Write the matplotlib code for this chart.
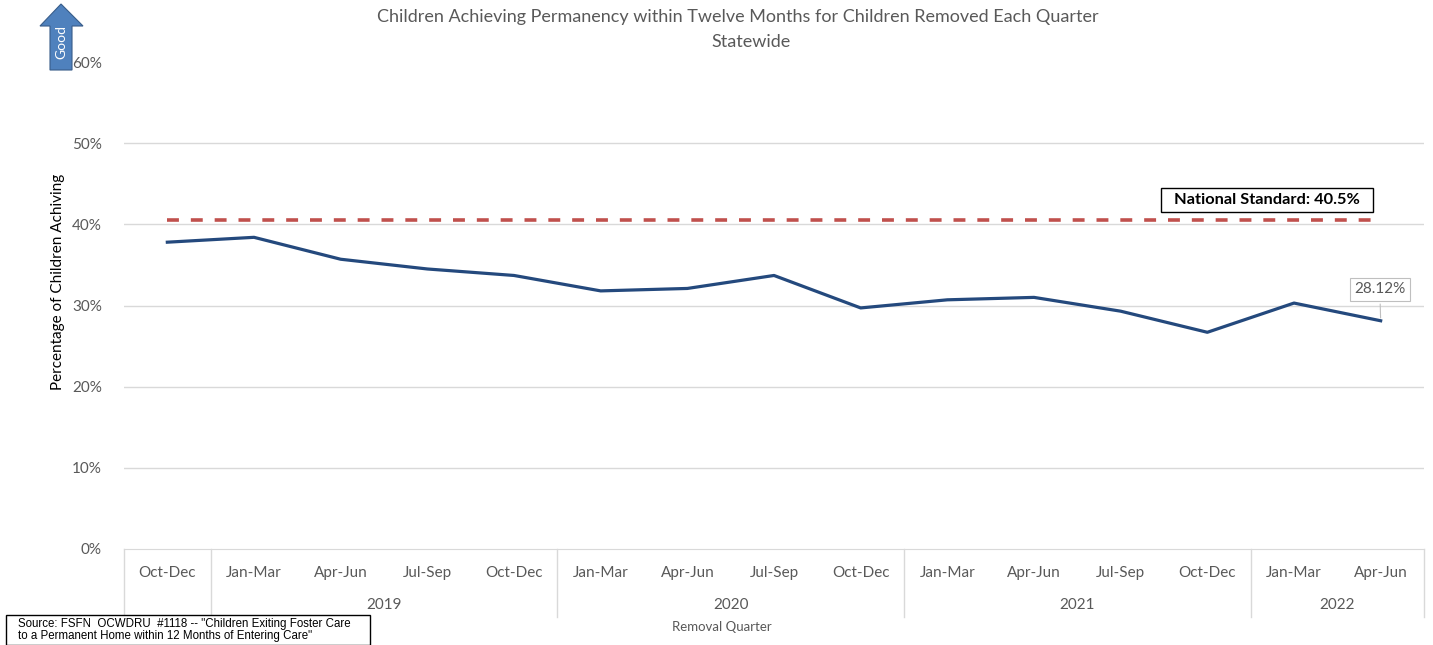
import matplotlib
matplotlib.use("Agg")
import matplotlib.pyplot as plt
from matplotlib.patches import Polygon, Rectangle
from matplotlib.lines import Line2D
import matplotlib.transforms as mtransforms

quarters = ["Oct-Dec", "Jan-Mar", "Apr-Jun", "Jul-Sep", "Oct-Dec",
            "Jan-Mar", "Apr-Jun", "Jul-Sep", "Oct-Dec",
            "Jan-Mar", "Apr-Jun", "Jul-Sep", "Oct-Dec",
            "Jan-Mar", "Apr-Jun"]
pct_achieving = [0.378, 0.384, 0.357, 0.345, 0.337,
                 0.318, 0.321, 0.337, 0.297,
                 0.307, 0.310, 0.293, 0.267,
                 0.303, 0.2812]
year_labels = ["", "2019", "2020", "2021", "2022"]
year_sizes = [1, 4, 4, 4, 2]
national_standard = 0.405

W, H = 1433, 645
plt.rcParams["font.family"] = ["Lato", "DejaVu Sans"]
gray = "#595959"

fig = plt.figure(figsize=(W / 100, H / 100), dpi=100)


def fx(px):
    return px / W


def fy(py):
    return 1 - py / H


left, right, top, bottom = 124, 1424, 62, 549
ax = fig.add_axes([fx(left), fy(bottom), (right - left) / W, (bottom - top) / H])
n = len(quarters)
x = list(range(n))

ax.set_xlim(-0.5, n - 0.5)
ax.set_ylim(0, 0.6)
ax.set_yticks([0, 0.1, 0.2, 0.3, 0.4, 0.5, 0.6])
ax.set_yticklabels(["0%", "10%", "20%", "30%", "40%", "50%", "60%"], color=gray, fontsize=11)
ax.tick_params(axis="y", length=0, pad=16)
ax.set_xticks([])
for s in ["top", "right", "left"]:
    ax.spines[s].set_visible(False)
ax.spines["bottom"].set_color("#D9D9D9")
for yv in [0.1, 0.2, 0.3, 0.4, 0.5]:
    ax.axhline(yv, color="#D9D9D9", linewidth=1, zorder=0)

ax.plot(x, pct_achieving, color="#24497D", linewidth=2.3, zorder=3)
ax.plot([x[0], x[-1]], [national_standard, national_standard], color="#C0504D",
        linewidth=2.6, dashes=(3.3, 3.3), zorder=2)

ax.set_ylabel("Percentage of Children Achiving", fontsize=11, color="black")
ax.yaxis.set_label_coords(-0.045, 0.548)

# category labels
trans = mtransforms.blended_transform_factory(ax.transData, ax.transAxes)
for i, q in enumerate(quarters):
    ax.text(i, -(573 - bottom) / (bottom - top), q, transform=trans, ha="center", va="center",
            fontsize=11, color=gray)

# year groups and separators
start = 0
sep_bottom = -(617 - bottom) / (bottom - top)
ax.add_line(Line2D([-0.5, -0.5], [0, sep_bottom], transform=trans, color="#D9D9D9",
                   linewidth=1, clip_on=False))
for label, size in zip(year_labels, year_sizes):
    end = start + size
    ax.add_line(Line2D([end - 0.5, end - 0.5], [0, sep_bottom], transform=trans,
                       color="#D9D9D9", linewidth=1, clip_on=False))
    if label:
        ax.text((start + end - 1) / 2, -(605 - bottom) / (bottom - top), label,
                transform=trans, ha="center", va="center", fontsize=11, color=gray)
    start = end

fig.text(fx(722), fy(627), "Removal Quarter", ha="center", va="center", fontsize=9.5, color=gray)

# title
fig.text(fx(738), fy(17), "Children Achieving Permanency within Twelve Months for Children Removed Each Quarter",
         ha="center", va="center", fontsize=13, color=gray)
fig.text(fx(751), fy(42), "Statewide", ha="center", va="center", fontsize=13, color=gray)

# national standard box
ax.text(12.69, 0.43, "  National Standard: 40.5%  ", ha="center", va="center", fontsize=11.8,
        fontweight="bold", color="black",
        bbox=dict(boxstyle="square,pad=0.3", fc="white", ec="black", lw=1))

# last point data label
ax.annotate(f"{pct_achieving[-1] * 100:.2f}%", xy=(x[-1], pct_achieving[-1]),
            xytext=(x[-1] - 0.01, 0.320), ha="center", va="center", fontsize=11, color=gray,
            bbox=dict(boxstyle="square,pad=0.3", fc="white", ec="#BFBFBF", lw=0.8),
            arrowprops=dict(arrowstyle="-", color="#BFBFBF", lw=0.8))

# "Good" arrow
arrow_px = [(50, 70), (72, 70), (72, 26), (83, 26), (61, 4), (40, 26), (50, 26)]
fig.add_artist(Polygon([(fx(a), fy(b)) for a, b in arrow_px], closed=True,
                       transform=fig.transFigure, fc="#4F81BD", ec="#385D8A", lw=0.8))
fig.text(fx(61), fy(42), "Good", rotation=90, ha="center", va="center", fontsize=10, color="white")

# source box
fig.add_artist(Rectangle((fx(6), fy(645)), (370 - 6) / W, (645 - 615) / H,
                         transform=fig.transFigure, fc="white", ec="black", lw=1))
fig.text(fx(18), fy(630), "Source: FSFN  OCWDRU  #1118 -- \"Children Exiting Foster Care\n"
         "to a Permanent Home within 12 Months of Entering Care\"",
         ha="left", va="center", fontsize=8.3, family=["Liberation Sans", "DejaVu Sans"],
         linespacing=1.0, color="black")

fig.savefig("out.png", dpi=100)
